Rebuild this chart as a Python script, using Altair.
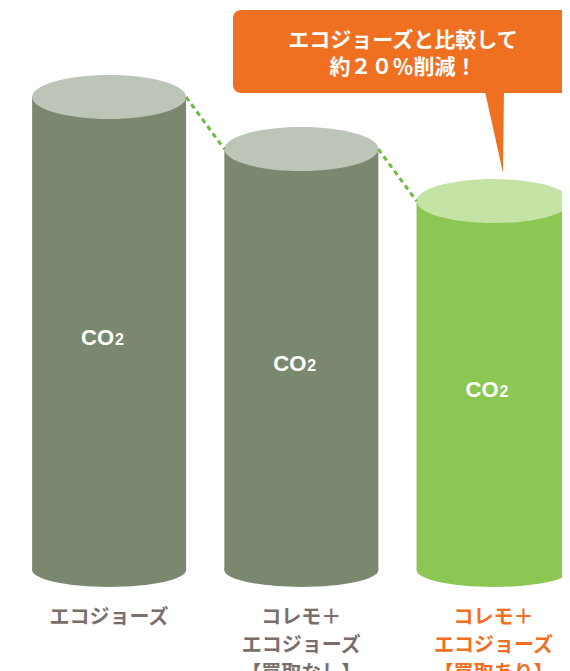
import altair as alt
import pandas as pd

# ---- data ----
categories = ["エコジョーズ", "コレモ＋エコジョーズ【買取なし】", "コレモ＋エコジョーズ【買取あり】"]
label_texts = ["エコジョーズ", "コレモ＋\nエコジョーズ\n【買取なし】", "コレモ＋\nエコジョーズ\n【買取あり】"]
co2_values = [100, 89, 78]
positions = [0, 1, 2]
groups = ["base", "base", "highlight"]
callout_text = "エコジョーズと比較して\n約２０％削減！"
co2_main = "CO"
co2_sub = "2"

df = pd.DataFrame({"cat": categories, "label": label_texts, "value": co2_values,
                   "pos": positions, "group": groups})
links = pd.DataFrame({"pos": positions[:-1], "pos2": positions[1:],
                      "value": co2_values[:-1], "value2": co2_values[1:]})
one = pd.DataFrame({"t": [callout_text]})

W, H = 554, 663
ORANGE = "#f07022"
TOP_ELLIPSE = "M-1,0 A1,0.286 0 1,1 1,0 A1,0.286 0 1,1 -1,0 Z"
BOTTOM_ELLIPSE = "M-1,0 A1,0.22 0 1,1 1,0 A1,0.22 0 1,1 -1,0 Z"
POINTER = "M-0.25,-1.15 L0.25,-1.15 L0.225,1 Z"

xscale = alt.Scale(domain=[-0.5, 2.33])
xenc = alt.X("pos:Q", scale=xscale, axis=None)
yscale = alt.Scale(domain=[0, 100], range=[562, 89])

def gcolor(rng):
    return alt.Color("group:N", scale=alt.Scale(domain=["base", "highlight"], range=rng), legend=None)

base = alt.Chart(df).encode(x=xenc)

bars = base.mark_bar(width=154).encode(
    y=alt.Y("value:Q", scale=yscale, axis=None),
    color=gcolor(["#7b8870", "#8cc653"]),
)
bottoms = base.transform_calculate(zero="0").mark_point(
    shape=BOTTOM_ELLIPSE, size=154 * 154, filled=True, opacity=1, strokeWidth=0
).encode(
    y=alt.Y("zero:Q", scale=yscale, axis=None),
    color=gcolor(["#7b8870", "#8cc653"]),
)
tops = base.mark_point(
    shape=TOP_ELLIPSE, size=154 * 154, filled=True, opacity=1, strokeWidth=0
).encode(
    y=alt.Y("value:Q", scale=yscale, axis=None),
    color=gcolor(["#bdc4b8", "#c6e3a6"]),
)
dashes = alt.Chart(links).mark_rule(
    strokeDash=[5, 4], strokeWidth=3, color="#6dbb3f", xOffset=77, x2Offset=-77
).encode(
    x=alt.X("pos:Q", scale=xscale, axis=None),
    x2="pos2:Q",
    y=alt.Y("value:Q", scale=yscale, axis=None),
    y2="value2:Q",
)
co_txt = base.transform_calculate(mid="datum.value / 2", t="'" + co2_main + "'").mark_text(
    align="right", baseline="alphabetic", dx=5, dy=11, fontSize=22,
    font="Liberation Sans", fontWeight="bold", color="white"
).encode(y=alt.Y("mid:Q", scale=yscale, axis=None), text="t:N")
sub_txt = base.transform_calculate(mid="datum.value / 2", t="'" + co2_sub + "'").mark_text(
    align="left", baseline="alphabetic", dx=6, dy=11, fontSize=16,
    font="Liberation Sans", fontWeight="bold", color="white"
).encode(y=alt.Y("mid:Q", scale=yscale, axis=None), text="t:N")

labels = base.mark_text(
    align="center", baseline="top", fontSize=20, fontWeight="bold", lineBreak="\n",
    lineHeight=28, font="Noto Sans CJK JP"
).encode(
    y=alt.value(600),
    text="label:N",
    color=gcolor(["#7a6e6a", ORANGE]),
)

box = alt.Chart(one).mark_rect(cornerRadius=8, color=ORANGE).encode(
    x=alt.value(225), x2=alt.value(600), y=alt.value(2), y2=alt.value(85)
)
pointer = alt.Chart(one).mark_point(
    shape=POINTER, size=80 * 80, filled=True, opacity=1, color=ORANGE, strokeWidth=0
).encode(x=alt.value(486), y=alt.value(125))
callout = alt.Chart(one).mark_text(
    align="center", baseline="top", fontSize=21, fontWeight="bold", lineBreak="\n",
    lineHeight=27, font="Noto Sans CJK JP", color="white"
).encode(x=alt.value(395), y=alt.value(22), text="t:N")

chart = alt.layer(
    bars, bottoms, tops, dashes, co_txt, sub_txt, labels, box, pointer, callout
).resolve_scale(color="independent").properties(
    width=W, height=H, padding=0, autosize=alt.AutoSizeParams(type="none")
).configure_view(stroke=None)

chart.save("out.html", embed_options={"renderer": "svg", "actions": False})
